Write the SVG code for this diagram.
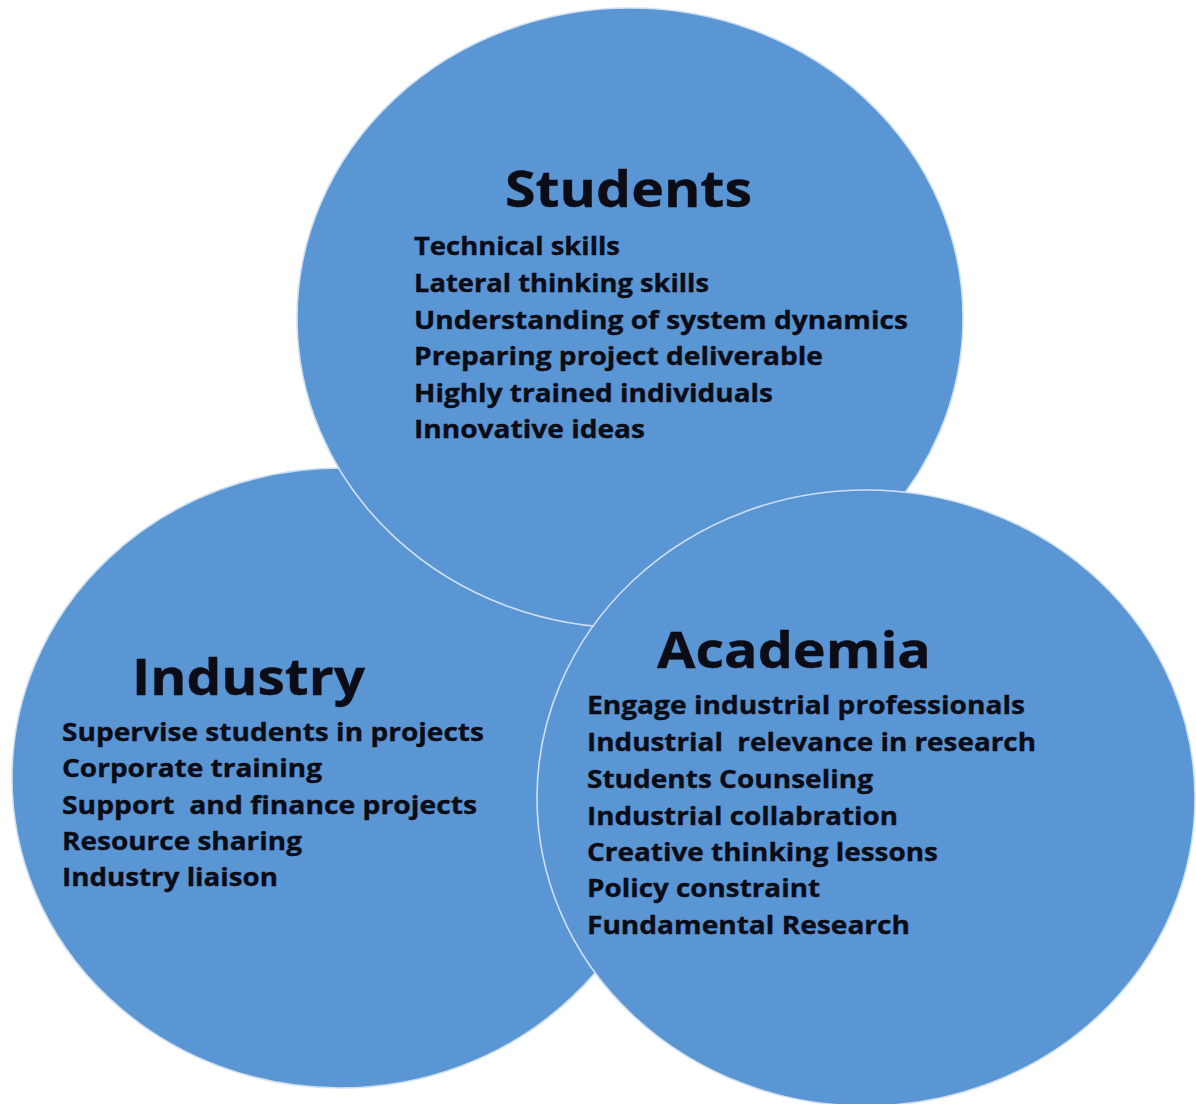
<svg xmlns="http://www.w3.org/2000/svg" width="1196" height="1104" viewBox="0 0 1196 1104">
<style>
.c{fill:#5A95D4;stroke:#CFE0F3;stroke-width:1.6}
.t{font-family:"Open Sans","Noto Sans","Liberation Sans",sans-serif;font-weight:700;fill:#0B0C16;stroke:#0B0C16;stroke-width:0.35}
.h{font-size:50px}
.i{font-size:25px}
</style>
<rect width="1196" height="1104" fill="#FFFFFF"/>
<g id="industry">
<ellipse class="c" cx="340" cy="778" rx="328" ry="310"/>
</g>
<g id="students">
<ellipse class="c" cx="630" cy="318" rx="333" ry="310"/>
</g>
<g id="academia">
<ellipse class="c" cx="866" cy="798" rx="329" ry="308"/>
</g>
<g id="connectors"/>
<g id="students-text" class="t">
<text class="h" x="505" y="207" textLength="247" lengthAdjust="spacingAndGlyphs">Students</text>
<text class="i" x="414" y="255" textLength="206" lengthAdjust="spacingAndGlyphs">Technical skills</text>
<text class="i" x="414" y="292" textLength="295" lengthAdjust="spacingAndGlyphs">Lateral thinking skills</text>
<text class="i" x="414" y="329" textLength="494" lengthAdjust="spacingAndGlyphs">Understanding of system dynamics</text>
<text class="i" x="414" y="365" textLength="409" lengthAdjust="spacingAndGlyphs">Preparing project deliverable</text>
<text class="i" x="414" y="402" textLength="359" lengthAdjust="spacingAndGlyphs">Highly trained individuals</text>
<text class="i" x="414" y="438" textLength="231" lengthAdjust="spacingAndGlyphs">Innovative ideas</text>
</g>
<g id="industry-text" class="t">
<text class="h" x="132" y="695" textLength="233" lengthAdjust="spacingAndGlyphs">Industry</text>
<text class="i" x="62" y="741" textLength="422" lengthAdjust="spacingAndGlyphs">Supervise students in projects</text>
<text class="i" x="62" y="777" textLength="260" lengthAdjust="spacingAndGlyphs">Corporate training</text>
<text class="i" x="62" y="814" textLength="415" lengthAdjust="spacingAndGlyphs" xml:space="preserve">Support  and finance projects</text>
<text class="i" x="62" y="850" textLength="240" lengthAdjust="spacingAndGlyphs">Resource sharing</text>
<text class="i" x="62" y="886" textLength="216" lengthAdjust="spacingAndGlyphs">Industry liaison</text>
</g>
<g id="academia-text" class="t">
<text class="h" x="657" y="668" textLength="274" lengthAdjust="spacingAndGlyphs">Academia</text>
<text class="i" x="587" y="714" textLength="438" lengthAdjust="spacingAndGlyphs">Engage industrial professionals</text>
<text class="i" x="587" y="751" textLength="449" lengthAdjust="spacingAndGlyphs" xml:space="preserve">Industrial  relevance in research</text>
<text class="i" x="587" y="788" textLength="286" lengthAdjust="spacingAndGlyphs">Students Counseling</text>
<text class="i" x="587" y="825" textLength="311" lengthAdjust="spacingAndGlyphs">Industrial collabration</text>
<text class="i" x="587" y="861" textLength="351" lengthAdjust="spacingAndGlyphs">Creative thinking lessons</text>
<text class="i" x="587" y="897" textLength="233" lengthAdjust="spacingAndGlyphs">Policy constraint</text>
<text class="i" x="587" y="934" textLength="323" lengthAdjust="spacingAndGlyphs">Fundamental Research</text>
</g>
</svg>
